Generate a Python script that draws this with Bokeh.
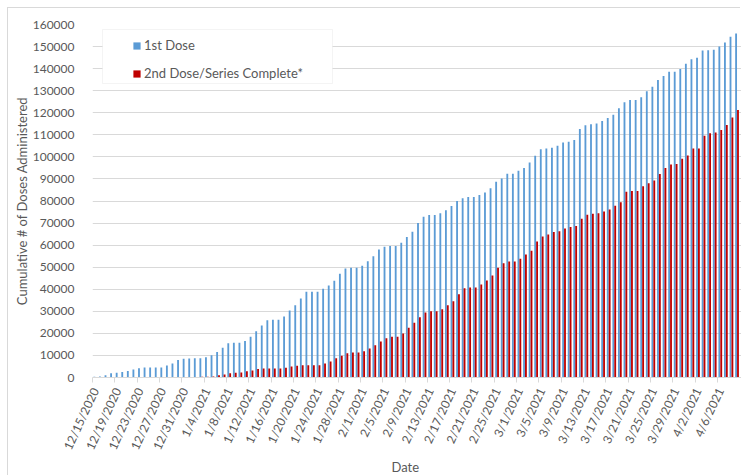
import math
import pandas as pd
from bokeh.plotting import figure
from bokeh.models import (ColumnDataSource, Range1d, FixedTicker, SingleIntervalTicker,
                          NumeralTickFormatter, Legend, LegendItem, Title, BoxAnnotation)
from bokeh.transform import dodge
from bokeh.embed import file_html
from bokeh.resources import INLINE

# ---------------- data ----------------
start_date = "2020-12-15"
label_every = 4

first_dose = [
    300, 450, 1000, 1900, 2100, 2500, 3000, 3600, 4200, 4500,
    4500, 4500, 4500, 5400, 6400, 7900, 8500, 8600, 8700, 8700,
    9200, 10100, 11600, 13500, 15500, 15800, 15800, 16500, 18500, 21000,
    23600, 26000, 26200, 26200, 27600, 30400, 32700, 35800, 38900, 38900,
    38900, 40200, 41700, 43800, 47000, 49400, 49700, 49700, 50600, 52700,
    55000, 58000, 59300, 59600, 59600, 61100, 63700, 66100, 70000, 72900,
    73600, 73600, 74500, 75800, 77700, 80000, 81200, 81800, 81800, 82700,
    83900, 85800, 88700, 90200, 92300, 92300, 93700, 95000, 97400, 100500,
    103500, 103800, 104100, 105000, 106500, 106800, 107600, 112600, 114300, 114800,
    115100, 116300, 117600, 119100, 122000, 124800, 125800, 125800, 127000, 129800,
    131800, 134800, 136700, 138600, 138600, 139800, 142200, 144300, 144900, 148200,
    148300, 148600, 150000, 151800, 154400, 155900,
]

second_dose = [
    0, 0, 0, 0, 0, 0, 0, 0, 0, 0,
    0, 0, 0, 0, 0, 100, 150, 200, 250, 300,
    350, 500, 1000, 1400, 1900, 2200, 2300, 2800, 3200, 3800,
    4100, 4100, 4100, 4100, 4400, 5000, 5300, 5600, 5600, 5600,
    5600, 6300, 7200, 8700, 9900, 11000, 11300, 11300, 11900, 13100,
    14600, 16300, 17800, 18500, 18500, 20000, 22600, 24800, 27300, 29500,
    30000, 30000, 30900, 32700, 34600, 37700, 40500, 40800, 40800, 42200,
    44000, 46200, 49700, 51800, 52600, 52600, 53800, 55700, 57500, 61600,
    63900, 64800, 66000, 66300, 67500, 68200, 68700, 71900, 73800, 74200,
    74500, 75200, 76100, 77900, 79400, 84200, 84500, 84500, 86700, 88000,
    89300, 92200, 95000, 96500, 96800, 99100, 100600, 103800, 103800, 109600,
    110700, 111000, 112200, 114500, 117900, 121200,
]

series_names = ["1st Dose", "2nd Dose/Series Complete*"]

dates = pd.date_range(start_date, periods=len(first_dose), freq="D")
date_labels = [f"{d.month}/{d.day}/{d.year}" for d in dates]
idx = list(range(len(dates)))

source = ColumnDataSource(dict(idx=idx, first=first_dose, second=second_dose, date=date_labels))

# ---------------- style ----------------
FONT = "Lato"
TXT = "#595959"
GRID = "#D9D9D9"
BLUE = "#5B9BD5"
RED = "#C00000"

p = figure(width=733, height=468, margin=(8, 0, 0, 8),
           output_backend="svg", toolbar_location=None,
           x_range=Range1d(-0.5, len(idx) - 0.2), y_range=Range1d(0, 160000),
           min_border_left=84, min_border_right=0, min_border_top=16, min_border_bottom=98,
           background_fill_color="white", border_fill_color="white",
           outline_line_color=None,
           styles={"box-shadow": "-1px -1px 0 0 #D9D9D9"})

r1 = p.vbar(x=dodge("idx", -0.17), top="first", width=0.33, source=source,
            fill_color=BLUE, line_color=None)
r2 = p.vbar(x=dodge("idx", 0.17), top="second", width=0.33, source=source,
            fill_color=RED, line_color=None)

# y axis
p.yaxis.ticker = SingleIntervalTicker(interval=10000, num_minor_ticks=0)
p.yaxis.formatter = NumeralTickFormatter(format="0")
p.yaxis.axis_line_color = None
p.yaxis.major_tick_line_color = None
p.yaxis.minor_tick_line_color = None
p.yaxis.major_label_standoff = 12
p.yaxis.major_label_text_font = FONT
p.yaxis.major_label_text_font_size = "12px"
p.yaxis.major_label_text_color = TXT
p.yaxis.axis_label = "Cumulative # of Doses Administered"
p.yaxis.axis_label_text_font = FONT
p.yaxis.axis_label_text_font_size = "13px"
p.yaxis.axis_label_text_font_style = "normal"
p.yaxis.axis_label_text_color = TXT
p.yaxis.axis_label_standoff = 0

p.ygrid.grid_line_color = GRID
p.ygrid.ticker = SingleIntervalTicker(interval=10000, num_minor_ticks=0)
p.xgrid.visible = False

# x axis
tick_pos = idx[::label_every]
p.xaxis.ticker = FixedTicker(ticks=tick_pos, minor_ticks=[t - 0.5 for t in tick_pos])
p.xaxis.major_label_overrides = {t: date_labels[t] for t in tick_pos}
p.xaxis.major_label_orientation = math.radians(65)
p.xaxis.major_tick_line_color = None
p.xaxis.major_tick_out = 0
p.xaxis.major_tick_in = 0
p.xaxis.minor_tick_out = 5
p.xaxis.minor_tick_in = 0
p.xaxis.minor_tick_line_color = GRID
p.xaxis.axis_line_color = GRID
p.xaxis.major_label_standoff = 6
p.xaxis.major_label_text_font = FONT
p.xaxis.major_label_text_font_size = "12px"
p.xaxis.major_label_text_color = TXT

p.add_layout(Title(text="Date", align="left", offset=299, standoff=0,
                   vertical_align="top",
                   text_font=FONT, text_font_size="13px", text_font_style="normal",
                   text_color=TXT), "below")

# legend frame + legend
box = BoxAnnotation(left=10, right=240, top=348, bottom=294,
                    left_units="screen", right_units="screen",
                    top_units="screen", bottom_units="screen",
                    fill_color="white", fill_alpha=1, line_color=GRID, line_width=1)
p.add_layout(box)

legend = Legend(items=[LegendItem(label=series_names[0], renderers=[r1]),
                       LegendItem(label=series_names[1], renderers=[r2])],
                location=(40, 296), padding=0, spacing=12,
                glyph_width=9, glyph_height=9, label_standoff=3, label_height=9,
                label_text_font=FONT, label_text_font_size="13px", label_text_color=TXT,
                border_line_alpha=0, background_fill_alpha=0)
p.add_layout(legend)

open("out.html", "w").write(file_html(p, INLINE))
